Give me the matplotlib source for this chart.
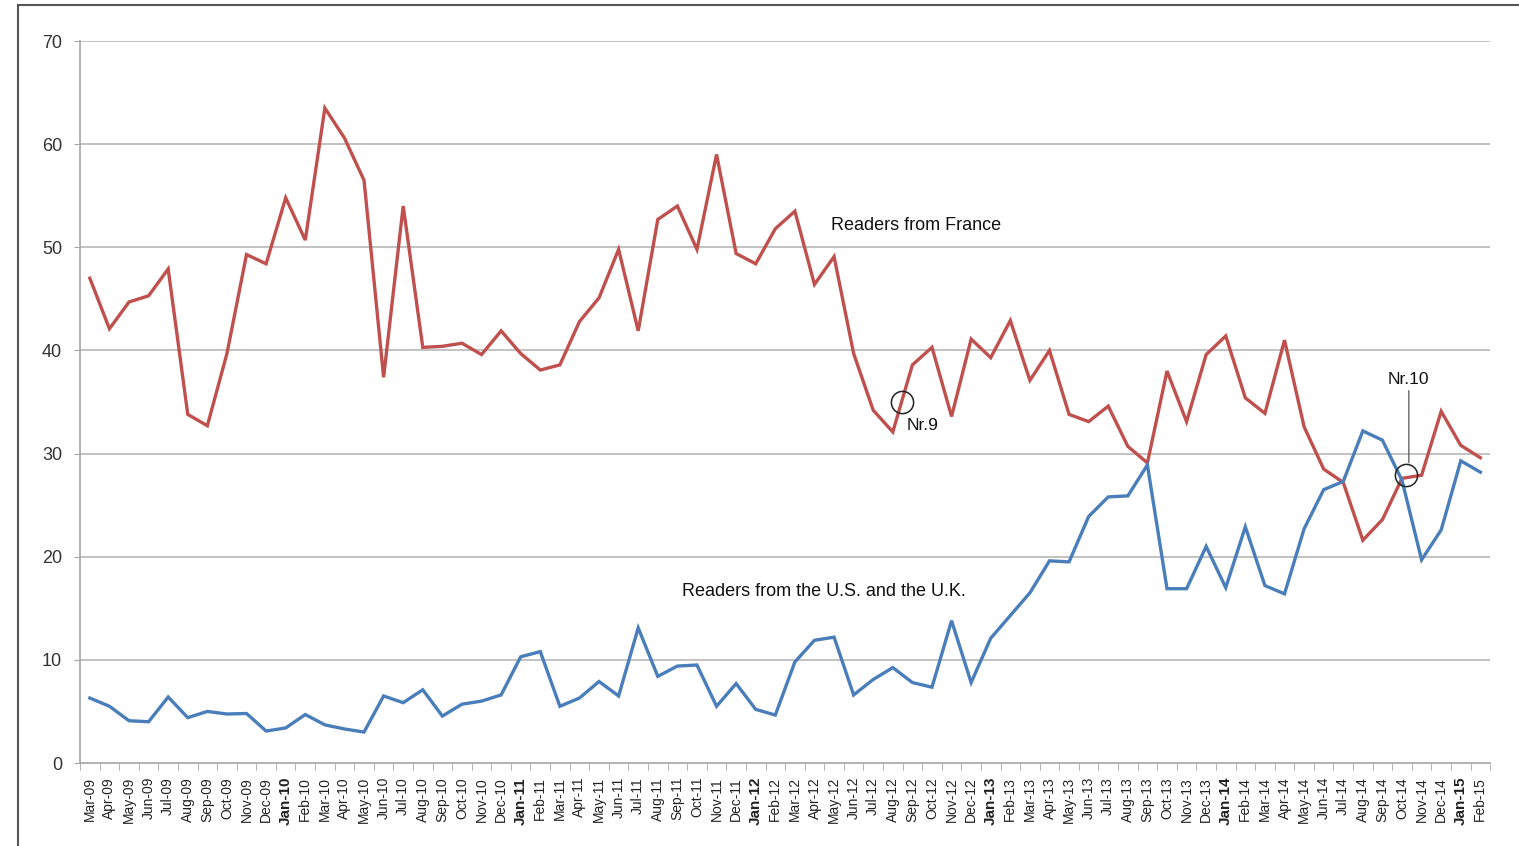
import numpy as np
import matplotlib
matplotlib.use("Agg")
import matplotlib.pyplot as plt
from matplotlib.lines import Line2D

plt.rcParams['font.family'] = ['Liberation Sans', 'DejaVu Sans']

# monthly share of readers (%), Mar-09 .. Feb-15
months = ['Mar', 'Apr', 'May', 'Jun', 'Jul', 'Aug', 'Sep', 'Oct', 'Nov', 'Dec', 'Jan', 'Feb']
years = ['09', '10', '11', '12', '13', '14', '15']
labels = []
for k in range(72):
    m = months[k % 12]
    y = years[(k + 2) // 12]
    labels.append(m + '-' + y)

france = [47.0, 42.1, 44.7, 45.3, 47.9, 33.8, 32.7, 39.7, 49.3, 48.4,
          54.8, 50.7, 63.5, 60.6, 56.5, 37.4, 54.0, 40.3, 40.4, 40.7,
          39.6, 41.9, 39.7, 38.1, 38.6, 42.8, 45.1, 49.8, 41.9, 52.7,
          54.0, 49.8, 59.0, 49.4, 48.4, 51.8, 53.5, 46.4, 49.1, 39.7,
          34.2, 32.1, 38.6, 40.3, 33.6, 41.1, 39.3, 42.9, 37.1, 40.0,
          33.8, 33.1, 34.6, 30.7, 29.1, 38.0, 33.1, 39.6, 41.4, 35.4,
          33.9, 41.0, 32.6, 28.5, 27.2, 21.6, 23.6, 27.6, 27.9, 34.1,
          30.8, 29.6]

us_uk = [6.3, 5.5, 4.1, 4.0, 6.4, 4.4, 5.0, 4.75, 4.8, 3.1,
         3.4, 4.7, 3.7, 3.3, 3.0, 6.5, 5.85, 7.1, 4.55, 5.7,
         6.0, 6.6, 10.3, 10.8, 5.5, 6.3, 7.9, 6.5, 13.1, 8.4,
         9.4, 9.5, 5.5, 7.7, 5.2, 4.65, 9.8, 11.9, 12.2, 6.6,
         8.1, 9.25, 7.8, 7.35, 13.8, 7.8, 12.1, 14.3, 16.5, 19.6,
         19.5, 23.9, 25.8, 25.9, 28.9, 16.9, 16.9, 21.0, 17.0, 22.9,
         17.2, 16.4, 22.7, 26.5, 27.3, 32.2, 31.3, 27.4, 19.7, 22.6,
         29.3, 28.2]

# month positions (between categories) where the two issues came out
issue_labels = ['Nr.9', 'Nr.10']
issue_pos = [41.45, 67.2]

x = np.arange(len(labels))

fig = plt.figure(figsize=(15.19, 8.46), dpi=100)
ax = fig.add_axes([0.0527, 0.0981, 0.9283, 0.8534])

grid_c = '#bdbdbd'
ax.set_ylim(0, 70)
ax.set_xlim(-0.5, len(labels) - 0.5)
ax.set_yticks(range(0, 71, 10))
for v in range(10, 71, 10):
    ax.axhline(v, color=grid_c, lw=1.3, zorder=1)

ax.plot(x, france, color='#c0504d', lw=2.4, zorder=3, solid_joinstyle='miter')
ax.plot(x, us_uk, color='#4a7ebb', lw=2.4, zorder=3, solid_joinstyle='miter')

for s in ['top', 'right']:
    ax.spines[s].set_visible(False)
for s in ['left', 'bottom']:
    ax.spines[s].set_color('#a6a6a6')
    ax.spines[s].set_linewidth(1.2)

ax.tick_params(axis='y', length=4, color='#a6a6a6', labelsize=13, labelcolor='#333333', pad=9)
ax.set_xticks(x)
ax.set_xticklabels(labels, rotation=90, fontsize=10, color='#222222')
ax.set_xticks(np.arange(-0.5, len(labels), 1), minor=True)
ax.tick_params(axis='x', which='major', length=0, pad=10)
ax.tick_params(axis='x', which='minor', length=5, color='#a6a6a6')
for t in ax.get_xticklabels():
    if t.get_text().startswith('Jan'):
        t.set_fontweight('bold')
        t.set_fontsize(11)

# series labels
ax.text(42.2, 52.1, 'Readers from France', fontsize=13, ha='center', va='center', color='#111111')
ax.text(37.5, 16.6, 'Readers from the U.S. and the U.K.', fontsize=13, ha='center', va='center', color='#111111')

# issue markers on the France line
cx9 = issue_pos[0]
cy9 = np.interp(cx9, x, france)
ax.plot(cx9, cy9, 'o', ms=16, mfc='none', mec='#222222', mew=1.1, zorder=4)
ax.text(cx9 + 0.25, cy9 - 1.6, issue_labels[0], fontsize=12.5, ha='left', va='top', color='#111111')

cx10 = issue_pos[1]
cy10 = np.interp(cx10, x, france)
ax.plot(cx10, cy10 + 0.3, 'o', ms=16, mfc='none', mec='#222222', mew=1.1, zorder=4)
ax.annotate(issue_labels[1], xy=(cx10 + 0.15, cy10 + 1.45), xytext=(cx10 + 0.15, 36.5),
            ha='center', va='bottom', fontsize=12.5, color='#111111',
            arrowprops=dict(arrowstyle='-', color='#555555', lw=0.9, shrinkA=1, shrinkB=0))

# screenshot frame
fig.add_artist(Line2D([18 / 1519, 1], [1 - 5 / 846, 1 - 5 / 846], transform=fig.transFigure, color='#555555', lw=1.5))
fig.add_artist(Line2D([18 / 1519, 18 / 1519], [0, 1 - 5 / 846], transform=fig.transFigure, color='#555555', lw=1.5))

fig.savefig('out.png', dpi=100)
